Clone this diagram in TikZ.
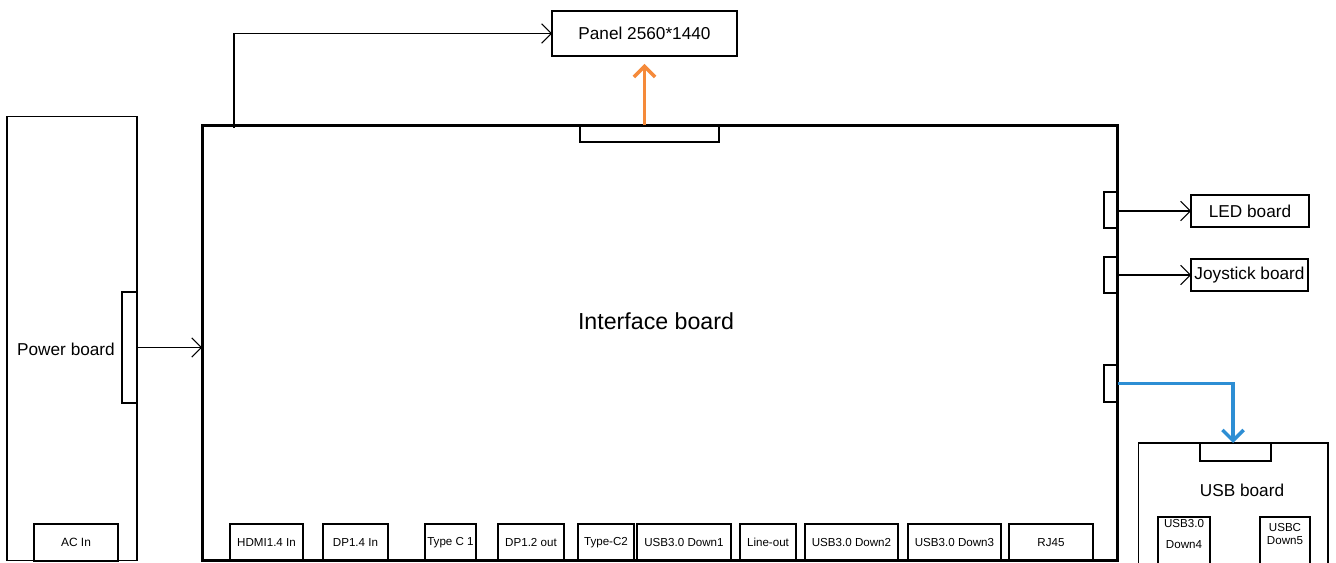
\documentclass[tikz,border=0pt]{standalone}
\usepackage{fontspec}
\setmainfont{Liberation Sans}
\usetikzlibrary{arrows.meta,calc}
\definecolor{panelorange}{RGB}{245,138,58}
\definecolor{usbblue}{RGB}{45,142,212}

\begin{document}
\begin{tikzpicture}[x=0.02cm, y=-0.02cm,
    box/.style={draw, line width=0.6pt, inner sep=0pt, outer sep=0pt},
    port/.style={box, minimum height=0.74cm, font=\fontsize{6.6}{7}\selectfont},
    bigtext/.style={font=\fontsize{9.8}{11}\selectfont, inner sep=0pt},
    smalltext/.style={font=\fontsize{6.6}{8}\selectfont, inner sep=0pt, align=center},
    thinarrow/.style={line width=0.6pt, -{Straight Barb[length=5.5pt,width=11pt]}},
    fatarrow/.style={line width=2pt, -{Straight Barb[length=6pt,width=12pt]}}]
    \useasboundingbox (0,0) rectangle (1336,563);

    % interface board and its connectors
    \node[box, line width=1.7pt, minimum width=18.32cm, minimum height=8.72cm] (iface) at (660,343) {};
    \node[font=\fontsize{13.2}{15}\selectfont, inner sep=0pt] (ifacetext) at (656,321) {Interface board};
    \node[box, minimum width=2.78cm, minimum height=0.34cm] (topconn) at (649.5,133.5) {};
    \node[box, minimum width=0.26cm, minimum height=0.72cm] (ledconn) at (1110.5,210) {};
    \node[box, minimum width=0.26cm, minimum height=0.72cm] (joyconn) at (1110.5,275) {};
    \node[box, minimum width=0.26cm, minimum height=0.74cm] (usbconn) at (1110.5,383.5) {};

    % ports along the bottom
    \foreach \nm/\cx/\w/\txt in {hdmi/266.5/1.46/HDMI1.4 In, dpin/355.5/1.30/DP1.4 In,
        typeca/450.5/1.02/Type C 1, dpout/531/1.32/DP1.2 out, typecb/606/1.12/Type-C2,
        usbda/684/1.88/USB3.0 Down1, lineout/768/1.12/Line-out, usbdb/851.5/1.86/USB3.0 Down2,
        usbdc/954.5/1.86/USB3.0 Down3, rjport/1051/1.68/RJ45}
        \node[port, minimum width=\w cm] (\nm) at (\cx,542.5) {\txt};

    % panel
    \node[box, bigtext, minimum width=3.70cm, minimum height=0.90cm] (panel) at (644.5,33.5) {Panel 2560*1440};
    \coordinate (feed) at (234,128);
    \draw[thinarrow] (feed) |- (panel.west);
    \draw[fatarrow, panelorange] (panel.south |- topconn.north) -- ($(panel.south)+(0,8)$);

    % power board
    \node[box, minimum width=2.6cm, minimum height=8.9cm] (power) at (72,338.5) {};
    \node[bigtext] (powertext) at (66,349) {Power board};
    \node[box, minimum width=0.3cm, minimum height=2.22cm] (pwrconn) at (129.5,347.5) {};
    \node[box, minimum width=1.68cm, minimum height=0.74cm, font=\fontsize{6.8}{8}\selectfont] (acin) at (76,542.5) {AC In};
    \draw[thinarrow] (pwrconn.east) -- (pwrconn.east -| iface.west);

    % LED and joystick boards
    \node[box, bigtext, minimum width=2.36cm, minimum height=0.64cm] (led) at (1250,211) {LED board};
    \node[box, bigtext, minimum width=2.34cm, minimum height=0.64cm] (joy) at (1249.5,275) {Joystick board};
    \draw[thinarrow] (led.west -| iface.east) -- (led.west);
    \draw[thinarrow] (joy.west -| iface.east) -- (joy.west);

    % USB board
    \node[box, minimum width=3.8cm, minimum height=2.74cm] (usbb) at (1233,511.5) {};
    \node[bigtext] (usbbtext) at (1242,490) {USB board};
    \node[box, minimum width=1.42cm, minimum height=0.36cm] (usbbconn) at (1235.5,452) {};
    \node[box, minimum width=1.04cm, minimum height=1.26cm] (usbdd) at (1184,548.5) {};
    \node[smalltext, anchor=north] (usbddtext) at (1184,519) {USB3.0\\[1.1ex]Down4};
    \node[box, minimum width=1.0cm, minimum height=1.26cm] (usbce) at (1285,548.5) {};
    \node[smalltext] (usbcetext) at (1285,534) {USBC\\[-0.3ex]Down5};
    \draw[fatarrow, usbblue] (usbconn.east -| iface.east) -| (usbb.north);
\end{tikzpicture}
\end{document}
